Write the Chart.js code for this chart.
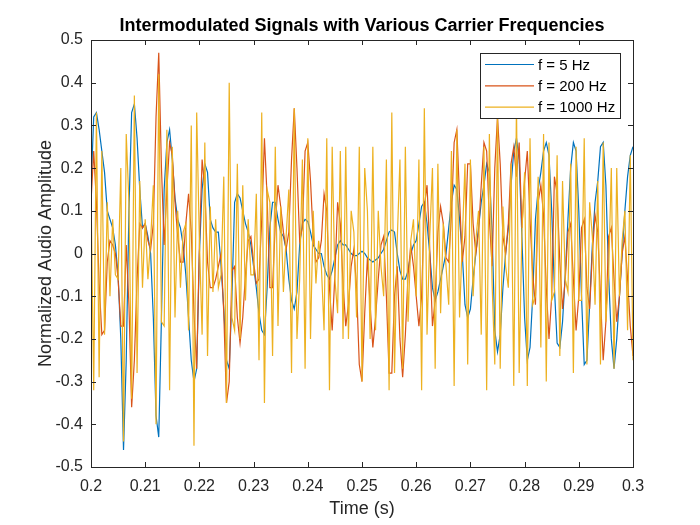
<!DOCTYPE html>
<html>
<head>
<meta charset="utf-8">
<title>Intermodulated Signals</title>
<script src="https://cdn.jsdelivr.net/npm/chart.js@4.4.1/dist/chart.umd.min.js"></script>
<style>
    html, body { margin: 0; padding: 0; background: #ffffff; }
    canvas { display: block; }
</style>
</head>
<body>
<canvas id="signalChart" width="700" height="525"></canvas>
<script>

// samples start at 0.2 s, one every 0.5 ms
const sampleStart = 0.2;
const sampleStep = 0.0005;

const seriesLabels = ['f = 5 Hz', 'f = 200 Hz', 'f = 1000 Hz'];
const seriesColors = ['#0072BD', '#D95319', '#EDB120'];

const carrier5Hz = [
    0.15, 0.32, 0.33, 0.29, 0.24, 0.19, 0.10, 0.08, 0.06, 0.02,
    -0.05, -0.20, -0.46, -0.25, 0.10, 0.33, 0.35, 0.27, 0.15, 0.06,
    0.07, 0.04, 0.00, -0.15, -0.38, -0.43, -0.15, 0.15, 0.26, 0.29,
    0.22, 0.13, 0.08, 0.06, 0.02, -0.05, -0.15, -0.25, -0.30, -0.27,
    0.00, 0.15, 0.21, 0.19, 0.08, 0.06, 0.05, 0.05, -0.03, -0.13,
    -0.25, -0.27, -0.10, 0.12, 0.14, 0.13, 0.10, 0.07, 0.05, 0.02,
    -0.03, -0.08, -0.14, -0.18, -0.19, -0.08, 0.06, 0.12, 0.12, 0.08,
    0.05, 0.04, 0.01, -0.06, -0.11, -0.13, -0.09, 0.02, 0.07, 0.08,
    0.075, 0.05, 0.02, 0.01, 0.00, 0.00, -0.03, -0.05, -0.06, -0.04,
    -0.01, 0.02, 0.03, 0.02, 0.02, 0.01, 0.00, -0.005, -0.005, 0.00,
    0.005, 0.00, -0.01, -0.015, -0.02, -0.015, -0.01, 0.00, 0.01, 0.03,
    0.05, 0.055, 0.05, 0.00, -0.04, -0.06, -0.06, -0.04, 0.00, 0.02,
    0.03, 0.07, 0.11, 0.12, 0.07, 0.00, -0.08, -0.11, -0.09, -0.06,
    -0.03, 0.00, 0.06, 0.12, 0.16, 0.15, 0.08, 0.00, -0.12, -0.15,
    -0.13, -0.06, 0.00, 0.06, 0.12, 0.16, 0.21, 0.19, 0.05, -0.18,
    -0.23, -0.19, -0.08, 0.00, 0.06, 0.16, 0.24, 0.27, 0.22, 0.04,
    -0.15, -0.25, -0.22, -0.10, 0.08, 0.15, 0.19, 0.24, 0.26, 0.23,
    0.10, -0.08, -0.21, -0.22, -0.16, -0.05, 0.08, 0.20, 0.26, 0.24,
    0.10, -0.10, -0.26, -0.25, -0.12, 0.02, 0.12, 0.17, 0.25, 0.26,
    0.16, -0.05, -0.20, -0.27, -0.20, -0.10, 0.00, 0.10, 0.18, 0.23,
    0.25
];

const carrier200Hz = [
    0.12, 0.24, 0.12, -0.07, -0.19, -0.18, -0.02, 0.03, 0.02, 0.00,
    -0.06, -0.17, -0.17, 0.02, -0.12, -0.36, -0.25, -0.06, 0.07, 0.06,
    0.07, 0.03, 0.01, 0.07, 0.32, 0.47, 0.20, 0.02, 0.15, 0.26,
    0.23, 0.12, 0.04, -0.02, -0.02, 0.07, 0.14, 0.05, -0.14, -0.27,
    0.02, 0.22, 0.15, -0.02, -0.08, -0.08, -0.06, -0.03, 0.00, -0.14,
    -0.35, -0.30, -0.04, -0.03, -0.15, -0.21, -0.15, -0.05, 0.03, 0.04,
    -0.02, -0.07, -0.06, 0.08, 0.27, 0.13, -0.08, -0.08, 0.07, 0.16,
    0.11, 0.05, 0.01, 0.05, 0.22, 0.34, 0.20, 0.03, 0.06, 0.24,
    0.26, 0.17, 0.04, -0.02, -0.01, 0.03, 0.14, 0.10, -0.08, -0.18,
    -0.05, 0.12, 0.07, -0.07, -0.17, -0.12, -0.03, 0.01, -0.08, -0.26,
    -0.30, -0.14, -0.01, -0.12, -0.22, -0.15, -0.06, 0.02, 0.04, -0.10,
    -0.28, -0.28, -0.10, -0.03, -0.20, -0.29, -0.19, -0.05, 0.02, -0.03,
    -0.10, -0.17, -0.10, 0.11, 0.16, 0.01, -0.17, -0.11, 0.05, 0.11,
    0.07, -0.01, -0.02, 0.09, 0.26, 0.29, 0.13, -0.02, 0.04, 0.21,
    0.21, 0.07, 0.00, 0.05, 0.16, 0.26, 0.24, 0.08, -0.03, 0.20,
    0.32, 0.21, 0.04, 0.00, 0.07, 0.21, 0.25, 0.18, 0.26, 0.06,
    0.17, 0.24, 0.08, -0.05, -0.12, 0.12, 0.16, 0.09, -0.08, -0.20,
    -0.10, 0.18, 0.14, -0.02, -0.13, -0.06, 0.05, 0.07, -0.06, -0.18,
    -0.10, 0.06, 0.08, -0.08, -0.13, 0.00, 0.09, 0.05, -0.10, -0.25,
    -0.16, 0.04, 0.06, -0.06, -0.16, -0.10, 0.00, 0.04, -0.06, -0.17,
    -0.24
];

const carrier1000Hz = [
    0.15, -0.32, 0.33, -0.29, 0.24, -0.19, 0.12, -0.10, 0.08, -0.05,
    -0.06, 0.20, -0.44, 0.28, 0.12, -0.34, 0.37, -0.28, 0.17, -0.08,
    0.08, -0.06, 0.03, 0.16, -0.40, 0.42, -0.16, -0.17, 0.29, -0.32,
    0.25, -0.15, 0.10, -0.08, 0.05, 0.07, -0.18, 0.30, -0.45, 0.33,
    0.03, -0.19, 0.26, -0.24, 0.11, -0.09, 0.08, -0.08, -0.05, 0.18,
    -0.35, 0.40, -0.15, -0.18, 0.21, -0.20, 0.16, -0.11, 0.08, -0.05,
    -0.05, 0.14, -0.25, 0.33, -0.35, 0.15, 0.12, -0.24, 0.25, -0.17,
    0.11, -0.09, 0.04, 0.15, -0.28, 0.34, -0.20, -0.06, 0.22, -0.27,
    0.27, -0.20, 0.10, -0.07, 0.03, -0.03, -0.18, 0.27, -0.32, 0.25,
    -0.06, -0.14, 0.24, -0.20, 0.25, -0.20, 0.10, 0.05, -0.15, 0.25,
    -0.30, 0.20, 0.10, -0.20, 0.25, -0.18, 0.10, -0.03, -0.10, 0.22,
    -0.32, 0.33, -0.28, 0.03, 0.22, -0.27, 0.25, -0.16, 0.03, 0.08,
    -0.10, 0.22, -0.32, 0.34, -0.19, 0.04, 0.20, -0.27, 0.21, -0.14,
    0.07, -0.03, -0.12, 0.24, -0.31, 0.29, -0.15, 0.03, 0.21, -0.26,
    0.22, -0.10, 0.03, 0.10, -0.19, 0.25, -0.32, 0.28, -0.07, -0.26,
    0.32, -0.27, 0.11, -0.03, -0.08, 0.21, -0.31, 0.35, -0.28, 0.05,
    0.19, -0.31, 0.27, -0.12, -0.10, 0.18, -0.22, 0.28, -0.30, 0.26,
    -0.11, -0.09, 0.23, -0.24, 0.17, -0.06, -0.09, 0.21, -0.28, 0.25,
    -0.11, -0.11, 0.27, -0.26, 0.12, 0.04, -0.12, 0.17, -0.26, 0.26,
    -0.16, -0.05, 0.20, -0.27, 0.20, -0.10, 0.03, 0.10, -0.18, 0.23,
    -0.25
];

const xTickValues = [0.2, 0.21, 0.22, 0.23, 0.24, 0.25, 0.26, 0.27, 0.28, 0.29, 0.3];
const xTickLabels = ['0.2', '0.21', '0.22', '0.23', '0.24', '0.25', '0.26', '0.27', '0.28', '0.29', '0.3'];
const yTickValues = [-0.5, -0.4, -0.3, -0.2, -0.1, 0, 0.1, 0.2, 0.3, 0.4, 0.5];
const yTickLabels = ['-0.5', '-0.4', '-0.3', '-0.2', '-0.1', '0', '0.1', '0.2', '0.3', '0.4', '0.5'];

const chartTitle = 'Intermodulated Signals with Various Carrier Frequencies';
const xAxisTitle = 'Time (s)';
const yAxisTitle = 'Normalized Audio Amplitude';

const fontFamily = '"Liberation Sans", Arial, Helvetica, sans-serif';
const axisColor = '#262626';
const tickLength = 5;


function toPoints(values) {
    return values.map((v, i) => ({ x: sampleStart + i * sampleStep, y: v }));
}


// MATLAB style frame: box, inward ticks on all four sides, legend and titles
const matlabFrame = {
    id: 'matlabFrame',
    afterDatasetsDraw(chart) {
        const { ctx, chartArea: area, scales } = chart;
        ctx.save();

        ctx.strokeStyle = axisColor;
        ctx.lineWidth = 1;
        ctx.beginPath();
        for (const v of xTickValues) {
            const px = Math.round(scales.x.getPixelForValue(v)) + 0.5;
            ctx.moveTo(px, area.bottom);
            ctx.lineTo(px, area.bottom - tickLength);
            ctx.moveTo(px, area.top);
            ctx.lineTo(px, area.top + tickLength);
        }
        for (const v of yTickValues) {
            const py = Math.round(scales.y.getPixelForValue(v)) + 0.5;
            ctx.moveTo(area.left, py);
            ctx.lineTo(area.left + tickLength, py);
            ctx.moveTo(area.right, py);
            ctx.lineTo(area.right - tickLength, py);
        }
        ctx.stroke();
        ctx.strokeRect(area.left + 0.5, area.top + 0.5, area.right - area.left, area.bottom - area.top);

        // legend box in the top right corner
        const boxW = 140;
        const boxH = 65;
        const boxX = area.right - 13 - boxW;
        const boxY = area.top + 13;
        ctx.fillStyle = '#ffffff';
        ctx.fillRect(boxX, boxY, boxW, boxH);
        ctx.strokeStyle = axisColor;
        ctx.strokeRect(boxX + 0.5, boxY + 0.5, boxW, boxH);

        ctx.font = '15px ' + fontFamily;
        ctx.textAlign = 'left';
        ctx.textBaseline = 'middle';
        chart.data.datasets.forEach((ds, i) => {
            const rowY = boxY + 11.5 + i * 21.3;
            ctx.strokeStyle = ds.borderColor;
            ctx.lineWidth = 1.2;
            ctx.beginPath();
            ctx.moveTo(boxX + 5, rowY);
            ctx.lineTo(boxX + 54, rowY);
            ctx.stroke();
            ctx.fillStyle = '#000000';
            ctx.fillText(ds.label, boxX + 58, rowY + 1);
        });

        const midX = (area.left + area.right) / 2;
        const midY = (area.top + area.bottom) / 2;

        ctx.fillStyle = '#000000';
        ctx.textAlign = 'center';
        ctx.textBaseline = 'alphabetic';
        ctx.font = 'bold 18px ' + fontFamily;
        ctx.fillText(chartTitle, midX, 31);

        ctx.fillStyle = axisColor;
        ctx.font = '18px ' + fontFamily;
        ctx.fillText(xAxisTitle, midX, 514);

        ctx.translate(51, midY);
        ctx.rotate(-Math.PI / 2);
        ctx.fillText(yAxisTitle, 0, 0);

        ctx.restore();
    }
};


const datasets = [carrier5Hz, carrier200Hz, carrier1000Hz].map((values, i) => ({
    label: seriesLabels[i],
    data: toPoints(values),
    borderColor: seriesColors[i],
    backgroundColor: seriesColors[i],
    borderWidth: 1.2,
    pointRadius: 0,
    tension: 0,
    fill: false,
    order: 3 - i   // later series drawn on top, as in the original
}));

new Chart(document.getElementById('signalChart'), {
    type: 'line',
    data: { datasets },
    options: {
        responsive: false,
        animation: false,
        events: [],
        layout: { padding: { top: 40, right: 67, left: 0, bottom: 0 } },
        plugins: {
            legend: { display: false },
            title: { display: false },
            tooltip: { enabled: false }
        },
        scales: {
            x: {
                type: 'linear',
                min: 0.2,
                max: 0.3,
                grid: { display: false, drawTicks: false },
                border: { display: false },
                afterBuildTicks: (scale) => {
                    scale.ticks = xTickValues.map((v) => ({ value: v }));
                },
                afterFit: (scale) => { scale.height = 58; },
                ticks: {
                    autoSkip: false,
                    maxRotation: 0,
                    padding: 10,
                    color: axisColor,
                    font: { family: fontFamily, size: 16 },
                    callback: (value, index) => xTickLabels[index]
                }
            },
            y: {
                type: 'linear',
                min: -0.5,
                max: 0.5,
                grid: { display: false, drawTicks: false },
                border: { display: false },
                afterBuildTicks: (scale) => {
                    scale.ticks = yTickValues.map((v) => ({ value: v }));
                },
                afterFit: (scale) => { scale.width = 91; },
                ticks: {
                    autoSkip: false,
                    padding: 8,
                    color: axisColor,
                    font: { family: fontFamily, size: 16 },
                    callback: (value, index) => yTickLabels[index]
                }
            }
        }
    },
    plugins: [matlabFrame]
});
</script>
</body>
</html>
